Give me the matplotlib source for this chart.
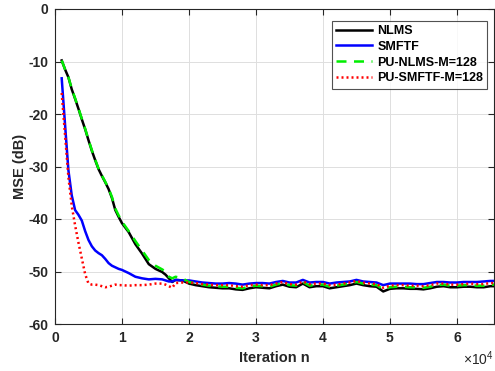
import matplotlib
matplotlib.use("Agg")
import matplotlib.pyplot as plt
from matplotlib.ticker import FuncFormatter

plt.rcParams['font.family'] = ['Liberation Sans', 'DejaVu Sans']
plt.rcParams['mathtext.fontset'] = 'custom'
plt.rcParams['mathtext.rm'] = 'Liberation Sans'
plt.rcParams['mathtext.it'] = 'Liberation Sans:italic'
plt.rcParams['axes.unicode_minus'] = False

# iteration index (x values, in iterations)
iters = [1000, 1500, 2000, 2500, 3000, 3500, 4000, 4500, 5000, 5500, 6000, 6500,
         7000, 7500, 8000, 8500, 9000, 9500, 10000, 11000, 12000, 13000, 14000,
         15000, 16000, 16500, 17000, 17500, 18000, 19000,
         20000, 21000, 22000, 23000, 24000, 25000, 26000, 27000, 28000, 29000,
         30000, 31000, 32000, 33000, 34000, 35000, 36000, 37000, 38000, 39000,
         40000, 41000, 42000, 43000, 44000, 45000, 46000, 47000, 48000, 49000,
         50000, 51000, 52000, 53000, 54000, 55000, 56000, 57000, 58000, 59000,
         60000, 61000, 62000, 63000, 64000, 65000, 65536]

nlms = [-9.8, -11.5, -13.0, -15.3, -17.1, -19.0, -21.0, -22.9, -25.0, -27.0, -28.8, -30.5,
        -31.8, -33.0, -34.3, -36.0, -38.3, -39.6, -40.8, -42.5, -44.8, -46.6, -48.6,
        -49.5, -50.1, -50.6, -51.3, -52.0, -51.6, -51.7,
        -52.3, -52.6, -52.8, -53.0, -53.1, -53.2, -53.2, -53.4, -53.5, -53.2,
        -53.0, -53.1, -53.2, -52.8, -52.5, -52.9, -53.0, -52.3, -53.0, -52.8,
        -52.8, -53.2, -53.0, -52.8, -52.6, -52.3, -52.6, -52.8, -52.9, -53.8,
        -53.3, -53.2, -53.2, -53.3, -53.3, -53.4, -53.2, -52.9, -52.8, -53.0,
        -53.0, -52.9, -52.9, -53.0, -53.0, -52.8, -52.8]

smftf = [-13.2, -22.0, -30.7, -35.5, -38.3, -39.2, -40.3, -42.3, -44.0, -45.2, -46.0, -46.5,
         -46.9, -47.6, -48.4, -48.9, -49.2, -49.5, -49.7, -50.3, -51.0, -51.3, -51.5,
         -51.4, -51.5, -51.7, -51.9, -51.9, -51.6, -51.7,
         -51.7, -51.9, -52.1, -52.2, -52.3, -52.3, -52.2, -52.3, -52.5, -52.3,
         -52.2, -52.2, -52.3, -52.0, -51.8, -52.1, -52.1, -51.6, -52.1, -52.0,
         -52.0, -52.3, -52.1, -52.0, -51.9, -51.6, -51.9, -52.0, -52.1, -52.6,
         -52.3, -52.3, -52.3, -52.3, -52.4, -52.4, -52.2, -52.0, -52.0, -52.1,
         -52.1, -52.0, -52.0, -52.0, -51.9, -51.8, -51.8]

pu_nlms = [-9.8, -11.5, -13.0, -15.2, -17.0, -18.9, -20.9, -22.8, -24.9, -26.9, -28.7, -30.4,
           -31.7, -32.9, -34.2, -35.8, -38.0, -39.3, -40.5, -42.3, -44.2, -46.0, -47.8,
           -48.9, -49.6, -50.0, -51.0, -51.3, -51.0, -51.3,
           -52.0, -52.3, -52.5, -52.7, -52.8, -52.9, -52.9, -53.1, -53.2, -52.9,
           -52.7, -52.8, -52.9, -52.5, -52.2, -52.6, -52.7, -52.0, -52.7, -52.5,
           -52.5, -52.9, -52.7, -52.5, -52.3, -52.0, -52.3, -52.5, -52.6, -53.4,
           -53.0, -52.9, -52.9, -53.0, -53.0, -53.1, -52.9, -52.6, -52.5, -52.7,
           -52.7, -52.6, -52.6, -52.7, -52.7, -52.5, -52.5]

pu_smftf = [-16.0, -24.0, -32.0, -37.5, -41.2, -44.5, -47.5, -50.5, -52.3, -52.5, -52.5, -52.6,
            -52.8, -53.0, -52.9, -52.7, -52.5, -52.6, -52.6, -52.7, -52.6, -52.6, -52.5,
            -52.3, -52.3, -52.5, -52.8, -53.1, -52.2, -52.1,
            -52.1, -52.2, -52.4, -52.5, -52.6, -52.6, -52.6, -52.8, -52.9, -52.6,
            -52.5, -52.6, -52.6, -52.3, -52.0, -52.4, -52.5, -51.9, -52.4, -52.3,
            -52.3, -52.6, -52.5, -52.3, -52.1, -51.8, -52.1, -52.3, -52.4, -53.1,
            -52.7, -52.6, -52.6, -52.7, -52.7, -52.8, -52.6, -52.3, -52.3, -52.5,
            -52.5, -52.4, -52.3, -52.4, -52.4, -52.2, -52.2]

labels = ['NLMS', 'SMFTF', 'PU-NLMS-M=128', 'PU-SMFTF-M=128']
x_ticks = [0, 10000, 20000, 30000, 40000, 50000, 60000]
y_ticks = [-60, -50, -40, -30, -20, -10, 0]

fig = plt.figure(figsize=(4.95, 3.71), dpi=100)
ax = fig.add_axes([55 / 495, 1 - 324 / 371, 439 / 495, 315 / 371])

ax.plot(iters, nlms, color='black', lw=1.8, label=labels[0])
ax.plot(iters, smftf, color='#0000ff', lw=1.8, label=labels[1])
ax.plot(iters, pu_nlms, color='#00ee00', lw=1.8, ls=(0, (4, 3)), label=labels[2])
ax.plot(iters, pu_smftf, color='#ff0000', lw=1.8, ls=(0, (0.8, 1.2)), label=labels[3])

ax.set_xlim(0, 65536)
ax.set_ylim(-60, 0)
ax.set_xticks(x_ticks)
ax.set_yticks(y_ticks)
ax.xaxis.set_major_formatter(FuncFormatter(lambda v, p: f"{int(round(v / 10000))}"))
ax.grid(True, color='#dedede', lw=0.7)
ax.set_axisbelow(True)
ax.tick_params(direction='in', top=True, right=True, length=4, width=0.8,
               colors='#262626', labelsize=10, pad=5)
for lab in ax.get_xticklabels() + ax.get_yticklabels():
    lab.set_fontweight('bold')
for s in ax.spines.values():
    s.set_color('#262626')
    s.set_linewidth(0.8)

ax.set_xlabel('Iteration n', fontsize=10.5, fontweight='bold', color='#262626', labelpad=4)
ax.set_ylabel('MSE (dB)', fontsize=10.5, fontweight='bold', color='#262626', labelpad=1)
ax.text(1.0, -0.082, r'$\times10^{4}$', transform=ax.transAxes, ha='right', va='top',
        fontsize=10, color='#262626')

leg = ax.legend(loc='upper right', bbox_to_anchor=(0.985, 0.963),
                prop={'weight': 'bold', 'size': 9}, frameon=True, fancybox=False,
                edgecolor='#262626', handlelength=2.9, handletextpad=0.4,
                borderpad=0.35, labelspacing=0.3, borderaxespad=0)
leg.get_frame().set_linewidth(0.8)

fig.savefig('out.png', dpi=100)
